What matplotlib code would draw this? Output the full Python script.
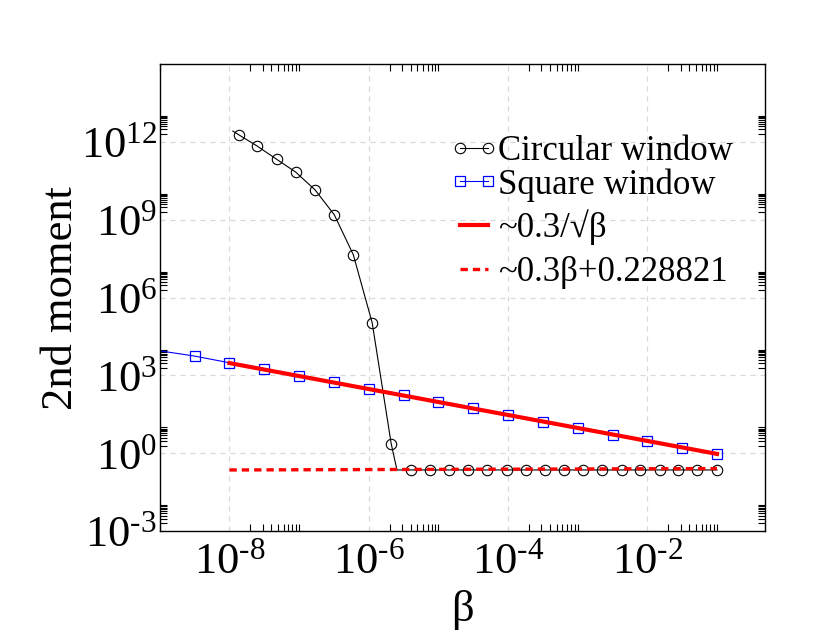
import math
import matplotlib
matplotlib.use('Agg')
import matplotlib.pyplot as plt
from matplotlib.ticker import FixedLocator, FuncFormatter, NullFormatter
from matplotlib.legend_handler import HandlerLine2D

plt.rcParams['font.family'] = ['Liberation Serif', 'DejaVu Serif']
plt.rcParams['mathtext.fontset'] = 'custom'
plt.rcParams['mathtext.rm'] = 'Liberation Serif'
plt.rcParams['mathtext.it'] = 'Liberation Serif:italic'

# circular window (first point and the knee point carry no marker)
circ_beta = [1.12e-8, 1.35e-8, 2.5e-8, 4.8e-8, 8.9e-8, 1.7e-7, 3.2e-7, 6.0e-7,
             1.12e-6, 2.1e-6, 2.54e-6, 4.0e-6, 7.6e-6, 1.4e-5, 2.7e-5, 5.0e-5,
             9.5e-5, 1.8e-4, 3.4e-4, 6.3e-4, 1.2e-3, 2.2e-3, 4.3e-3, 7.9e-3,
             1.5e-2, 2.8e-2, 5.2e-2, 0.1]
circ_m2 = [2.6e12, 1.9e12, 6.9e11, 2.1e11, 6.9e10, 1.4e10, 1.55e9, 4.5e7,
           1.07e5, 2.35, 0.229, 0.229, 0.229, 0.229, 0.229, 0.229,
           0.229, 0.229, 0.229, 0.229, 0.229, 0.229, 0.229, 0.229,
           0.229, 0.229, 0.229, 0.229]
circ_nomark = [0, 10]

# square window
sq_beta = [1e-9, 3.16e-9, 1e-8, 3.16e-8, 1e-7, 3.16e-7, 1e-6, 3.16e-6, 1e-5,
           3.16e-5, 1e-4, 3.16e-4, 1e-3, 3.16e-3, 1e-2, 3.16e-2, 0.1]
sq_m2 = [8900, 5590, 3080, 1810, 948, 542, 299, 171, 94.4,
         54.1, 29.9, 16.0, 9.42, 5.07, 2.98, 1.60, 0.94]

# fits
fit_beta = [1e-8, 0.1]
fit_sqrt = [3000, 0.949]
fit_lin = [0.2288, 0.2588]

fig = plt.figure(figsize=(8.28, 6.4), dpi=100)
ax = fig.add_axes([0.193, 0.170, 0.731, 0.730])

c1, = ax.plot(circ_beta, circ_m2, '-', color='black', lw=0.8, marker='o',
              ms=7.5, mfc='none', mec='black', mew=0.8,
              markevery=[i for i in range(len(circ_beta)) if i not in circ_nomark],
              label='Circular window')
s1, = ax.plot(sq_beta, sq_m2, '-', color='blue', lw=0.8, marker='s',
              ms=6.5, mfc='none', mec='blue', mew=0.9,
              markevery=list(range(1, len(sq_beta))), label='Square window')
f1, = ax.plot(fit_beta, fit_sqrt, '-', color='red', lw=3.0, label='~0.3/\u221a\u03b2')
f2, = ax.plot(fit_beta, fit_lin, '--', color='red', lw=2.4, dashes=(2.2, 1.5),
              label='~0.3\u03b2+0.228821')

ax.set_xscale('log')
ax.set_yscale('log')
ax.set_xlim(1e-9, 0.49)
ax.set_ylim(1e-3, 1e15)


def pow_label(v, pos):
    e = int(round(math.log10(v)))
    if e < 0:
        return r'$10^{\text{-}%d}$' % (-e)
    return r'$10^{%d}$' % e


xmaj = [10.0 ** e for e in range(-8, -1, 2)]
ymaj = [10.0 ** e for e in range(-3, 13, 3)]
xmin = [k * 10.0 ** e for e in range(-10, 1, 2) for k in range(2, 11)]
ymin = [k * 10.0 ** e for e in range(-3, 16, 3) for k in range(2, 11)]
ax.xaxis.set_major_locator(FixedLocator(xmaj))
ax.yaxis.set_major_locator(FixedLocator(ymaj))
ax.xaxis.set_minor_locator(FixedLocator(xmin))
ax.yaxis.set_minor_locator(FixedLocator(ymin))
ax.xaxis.set_major_formatter(FuncFormatter(pow_label))
ax.yaxis.set_major_formatter(FuncFormatter(pow_label))
ax.xaxis.set_minor_formatter(NullFormatter())
ax.yaxis.set_minor_formatter(NullFormatter())

ax.tick_params(which='major', length=0, labelsize=32)
ax.tick_params(axis='x', which='major', pad=8)
ax.tick_params(axis='y', which='major', pad=2)
ax.tick_params(which='minor', direction='in', length=5, width=0.8,
               top=True, right=True)
for sp in ax.spines.values():
    sp.set_linewidth(1.0)

ax.grid(True, which='major', color='#d8d8d8', ls=(0, (4, 4)), lw=0.9)
ax.set_axisbelow(True)

ax.set_xlabel('\u03b2', fontsize=32)
ax.set_ylabel('2nd moment', fontsize=32)
ax.xaxis.set_label_coords(0.5, -0.125)
ax.yaxis.set_label_coords(-0.13, 0.5)

hmap = {c1: HandlerLine2D(marker_pad=0, numpoints=2),
        s1: HandlerLine2D(marker_pad=0, numpoints=2)}
leg1 = ax.legend(handles=[c1, s1], loc='upper left', frameon=False, fontsize=25,
                 bbox_to_anchor=(0.5556, 0.789), bbox_transform=fig.transFigure,
                 borderpad=0, borderaxespad=0, handlelength=0.8, handletextpad=0.29,
                 labelspacing=0.0, handler_map=hmap)
ax.add_artist(leg1)
ax.legend(handles=[f1, f2], loc='upper left', frameon=False, fontsize=25,
          bbox_to_anchor=(0.5556, 0.673), bbox_transform=fig.transFigure,
          borderpad=0, borderaxespad=0, handlelength=0.8, handletextpad=0.29,
          labelspacing=0.31)

fig.savefig('out.png', dpi=100)
